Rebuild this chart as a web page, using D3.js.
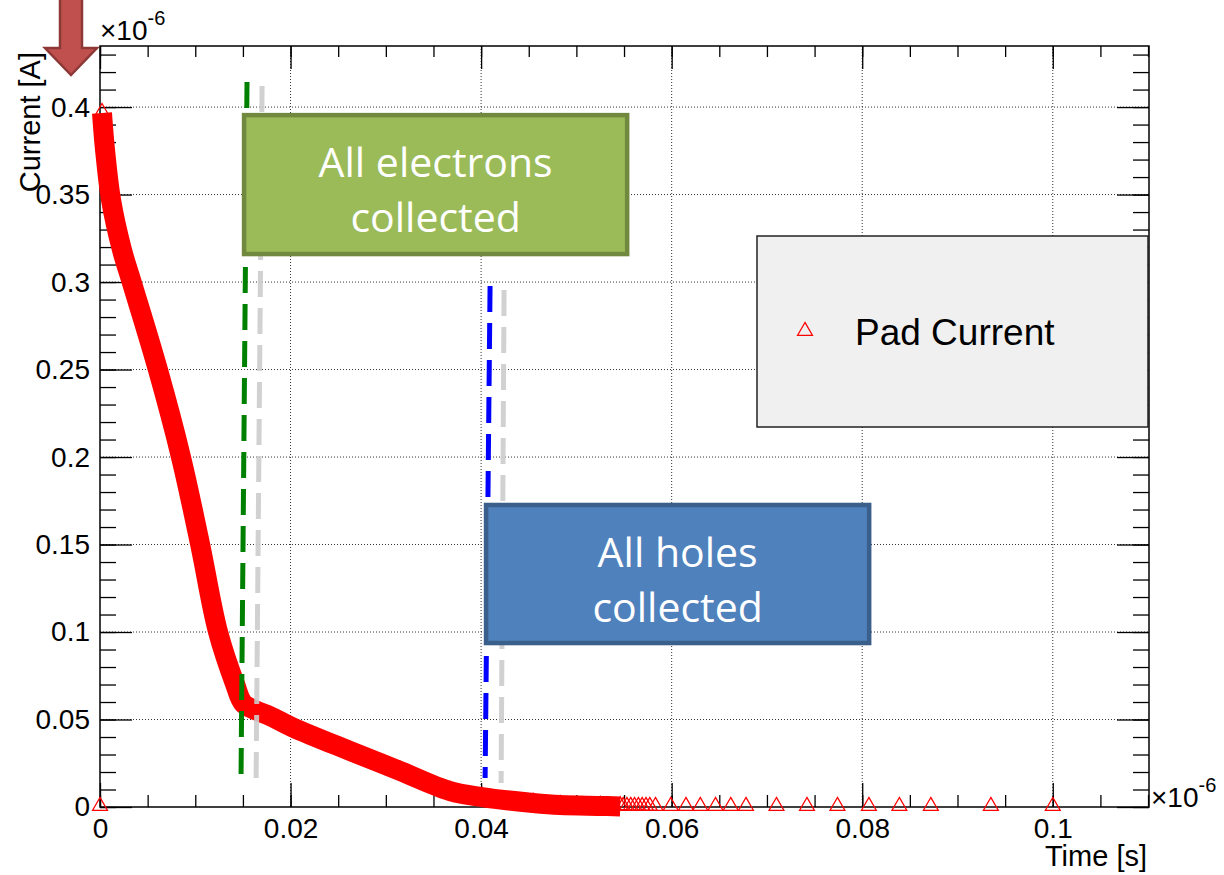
<!DOCTYPE html>
<html>
<head>
<meta charset="utf-8">
<script src="https://cdn.jsdelivr.net/npm/d3@7"></script>
<style>
body { margin: 0; background: #fff; }
svg { display: block; font-family: "Liberation Sans", Arial, sans-serif; }
.callout { font-family: "Open Sans", sans-serif; fill: #fff; font-size: 41px; }
</style>
</head>
<body>
<svg width="1224" height="875"></svg>
<script>
// pad current vs time, both axes in units of 1e-6
var time = [0, 0.00021, 0.00053, 0.00116, 0.00231, 0.00336, 0.00609, 0.0085, 0.0105, 0.01239,
    0.01417, 0.01501, 0.01627, 0.01785, 0.02016, 0.02625, 0.0315, 0.03675, 0.0401, 0.04546,
    0.0483, 0.0525, 0.0546];
var current = [0, 0.3966, 0.3754, 0.3469, 0.3183, 0.2994, 0.2497, 0.2, 0.1503, 0.1,
    0.0703, 0.0594, 0.0554, 0.052, 0.0457, 0.032, 0.0206, 0.0091, 0.0057, 0.0023,
    0.0011, 0.0006, 0.0003];

// late samples (sparse time steps), current is zero
var tailTime = [0.0549, 0.0553, 0.0557, 0.0561, 0.0565, 0.0569, 0.0573, 0.0577, 0.0583, 0.0599,
    0.0615, 0.0630, 0.0646, 0.0662, 0.0678, 0.0710, 0.0742, 0.0774, 0.0807, 0.0839,
    0.0872, 0.0935, 0.1000];
var tailCurrent = [0, 0, 0, 0, 0, 0, 0, 0, 0, 0, 0, 0, 0, 0, 0, 0, 0, 0, 0, 0, 0, 0, 0];

var xTicks = [0, 0.02, 0.04, 0.06, 0.08, 0.1];
var xTickLabels = ["0", "0.02", "0.04", "0.06", "0.08", "0.1"];
var yTicks = [0, 0.05, 0.1, 0.15, 0.2, 0.25, 0.3, 0.35, 0.4];
var yTickLabels = ["0", "0.05", "0.1", "0.15", "0.2", "0.25", "0.3", "0.35", "0.4"];

var seriesName = "Pad Current";

(function () {
    var svg = d3.select("svg");

    var fLeft = 100, fRight = 1149, fTop = 46, fBottom = 807;

    var x = d3.scaleLinear().domain([0, 0.1101]).range([fLeft, fRight]);
    var y = d3.scaleLinear().domain([0, 0.4349]).range([fBottom, fTop]);

    var points = time.map(function (t, i) { return { t: t, c: current[i] }; });
    var tail = tailTime.map(function (t, i) { return { t: t, c: tailCurrent[i] }; });

    // grid
    var grid = svg.append("g").attr("class", "grid")
        .attr("stroke", "#333").attr("stroke-width", 1).attr("stroke-dasharray", "1,2");
    grid.selectAll("line.gx")
        .data(xTicks.filter(function (d) { return d > 0; }))
        .enter().append("line")
        .attr("class", "gx")
        .attr("x1", function (d) { return x(d); }).attr("x2", function (d) { return x(d); })
        .attr("y1", fTop).attr("y2", fBottom);
    grid.selectAll("line.gy")
        .data(yTicks.filter(function (d) { return d > 0; }))
        .enter().append("line")
        .attr("class", "gy")
        .attr("y1", function (d) { return y(d); }).attr("y2", function (d) { return y(d); })
        .attr("x1", fLeft).attr("x2", fRight);

    // axes, ticks pointing inwards like ROOT
    var xMinor = d3.range(0, 0.1101, 0.005);
    var yMinor = d3.range(0, 0.435, 0.01);

    function styleAxis(g) {
        g.select(".domain").remove();
        g.selectAll("line").attr("stroke", "#000").attr("stroke-width", 1.3);
        g.attr("font-size", 28).attr("font-family", "Liberation Sans, Arial, sans-serif");
        g.selectAll("text").attr("fill", "#000");
    }

    svg.append("g").attr("transform", "translate(0," + fBottom + ")")
        .call(d3.axisBottom(x).tickValues(xMinor).tickSize(-12).tickFormat(""))
        .call(styleAxis);
    svg.append("g").attr("transform", "translate(0," + fBottom + ")")
        .call(d3.axisBottom(x).tickValues(xTicks).tickSize(-24).tickPadding(11)
            .tickFormat(function (d, i) { return xTickLabels[i]; }))
        .call(styleAxis);
    svg.append("g").attr("transform", "translate(0," + fTop + ")")
        .call(d3.axisTop(x).tickValues(xMinor).tickSize(-11).tickFormat(""))
        .call(styleAxis);
    svg.append("g").attr("transform", "translate(0," + fTop + ")")
        .call(d3.axisTop(x).tickValues(xTicks).tickSize(-23).tickFormat(""))
        .call(styleAxis);

    svg.append("g").attr("transform", "translate(" + fLeft + ",0)")
        .call(d3.axisLeft(y).tickValues(yMinor).tickSize(-16).tickFormat(""))
        .call(styleAxis);
    svg.append("g").attr("transform", "translate(" + fLeft + ",0)")
        .call(d3.axisLeft(y).tickValues(yTicks).tickSize(-32).tickPadding(10)
            .tickFormat(function (d, i) { return yTickLabels[i]; }))
        .call(styleAxis);
    svg.append("g").attr("transform", "translate(" + fRight + ",0)")
        .call(d3.axisRight(y).tickValues(yMinor).tickSize(-16).tickFormat(""))
        .call(styleAxis);
    svg.append("g").attr("transform", "translate(" + fRight + ",0)")
        .call(d3.axisRight(y).tickValues(yTicks).tickSize(-32).tickFormat(""))
        .call(styleAxis);

    svg.append("rect")
        .attr("x", fLeft).attr("y", fTop)
        .attr("width", fRight - fLeft).attr("height", fBottom - fTop)
        .attr("fill", "none").attr("stroke", "#000").attr("stroke-width", 1.5);

    // dense samples merge into a thick band
    var band = d3.line()
        .x(function (d) { return x(d.t); })
        .y(function (d) { return y(d.c); })
        .curve(d3.curveCatmullRom.alpha(0.5));

    svg.append("path")
        .datum(points.slice(1))
        .attr("d", band)
        .attr("fill", "none")
        .attr("stroke", "#ff0000")
        .attr("stroke-width", 20)
        .attr("stroke-linejoin", "round");

    var tri = d3.symbol().type(d3.symbolTriangle).size(95);

    svg.append("g").attr("class", "markers")
        .selectAll("path")
        .data(points.concat(tail))
        .enter().append("path")
        .attr("d", tri)
        .attr("transform", function (d) { return "translate(" + x(d.t) + "," + (y(d.c) - 1) + ")"; })
        .attr("fill", "none")
        .attr("stroke", "#ff0000")
        .attr("stroke-width", 1.3);

    // collection time guides
    var guides = [
        { t0: 0.01543, c0: 0.4143, t1: 0.01480, c1: 0.016, color: "#008000", opacity: 1 },
        { t0: 0.01701, c0: 0.412, t1: 0.01638, c1: 0.0137, color: "#cccccc", opacity: 0.9 },
        { t0: 0.04094, c0: 0.2977, t1: 0.04042, c1: 0.0166, color: "#0000ff", opacity: 1 },
        { t0: 0.04241, c0: 0.2954, t1: 0.0421, c1: 0.0137, color: "#cccccc", opacity: 0.9 }
    ];
    svg.append("g").selectAll("line")
        .data(guides)
        .enter().append("line")
        .attr("x1", function (d) { return x(d.t0); })
        .attr("y1", function (d) { return y(d.c0); })
        .attr("x2", function (d) { return x(d.t1); })
        .attr("y2", function (d) { return y(d.c1); })
        .attr("stroke", function (d) { return d.color; })
        .attr("stroke-opacity", function (d) { return d.opacity; })
        .attr("stroke-width", 5)
        .attr("stroke-dasharray", "26,11");

    // callout boxes
    var callouts = [
        { t0: 0.01512, t1: 0.05533, c0: 0.3954, c1: 0.316, fill: "#9bbb59", stroke: "#71893f", lines: ["All electrons", "collected"] },
        { t0: 0.04052, t1: 0.08073, c0: 0.1726, c1: 0.0937, fill: "#4f81bd", stroke: "#3a5f8b", lines: ["All holes", "collected"] }
    ];
    var box = svg.append("g").selectAll("g")
        .data(callouts)
        .enter().append("g");
    box.append("rect")
        .attr("x", function (d) { return x(d.t0); })
        .attr("y", function (d) { return y(d.c0); })
        .attr("width", function (d) { return x(d.t1) - x(d.t0); })
        .attr("height", function (d) { return y(d.c1) - y(d.c0); })
        .attr("fill", function (d) { return d.fill; })
        .attr("stroke", function (d) { return d.stroke; })
        .attr("stroke-width", 4.5);
    box.each(function (d) {
        var cx = (x(d.t0) + x(d.t1)) / 2;
        d3.select(this).selectAll("text")
            .data(d.lines)
            .enter().append("text")
            .attr("class", "callout")
            .attr("x", cx)
            .attr("y", function (l, i) { return y(d.c0) + 62 + i * 55; })
            .attr("text-anchor", "middle")
            .text(function (l) { return l; });
    });

    // legend
    var lg = svg.append("g");
    lg.append("rect")
        .attr("x", 757).attr("y", 236).attr("width", 391).attr("height", 191)
        .attr("fill", "#f0f0f0").attr("stroke", "#222").attr("stroke-width", 1.5);
    lg.append("path")
        .attr("d", tri)
        .attr("transform", "translate(805,331)")
        .attr("fill", "none").attr("stroke", "#ff0000").attr("stroke-width", 1.3);
    lg.append("text")
        .attr("x", 855).attr("y", 345)
        .attr("font-size", 37)
        .text(seriesName);

    // axis titles and exponents
    svg.append("text")
        .attr("transform", "translate(40,52) rotate(-90)")
        .attr("text-anchor", "end")
        .attr("font-size", 29)
        .text("Current [A]");
    svg.append("text")
        .attr("x", 1147).attr("y", 866)
        .attr("text-anchor", "end")
        .attr("font-size", 29)
        .text("Time [s]");

    function exponent(xp, yp) {
        var t = svg.append("text").attr("x", xp).attr("y", yp).attr("font-size", 28);
        t.append("tspan").text("\u00d710");
        t.append("tspan").attr("dy", -15).attr("font-size", 20).text("-6");
    }
    exponent(100, 40);
    exponent(1151, 807);

    // arrow pointing at the peak
    svg.append("path")
        .attr("d", "M60,-5 L82,-5 L82,48 L97,48 L71,75 L45,48 L60,48 Z")
        .attr("fill", "#c0504d")
        .attr("stroke", "#8c3836")
        .attr("stroke-width", 2.5);
})();
</script>
</body>
</html>
